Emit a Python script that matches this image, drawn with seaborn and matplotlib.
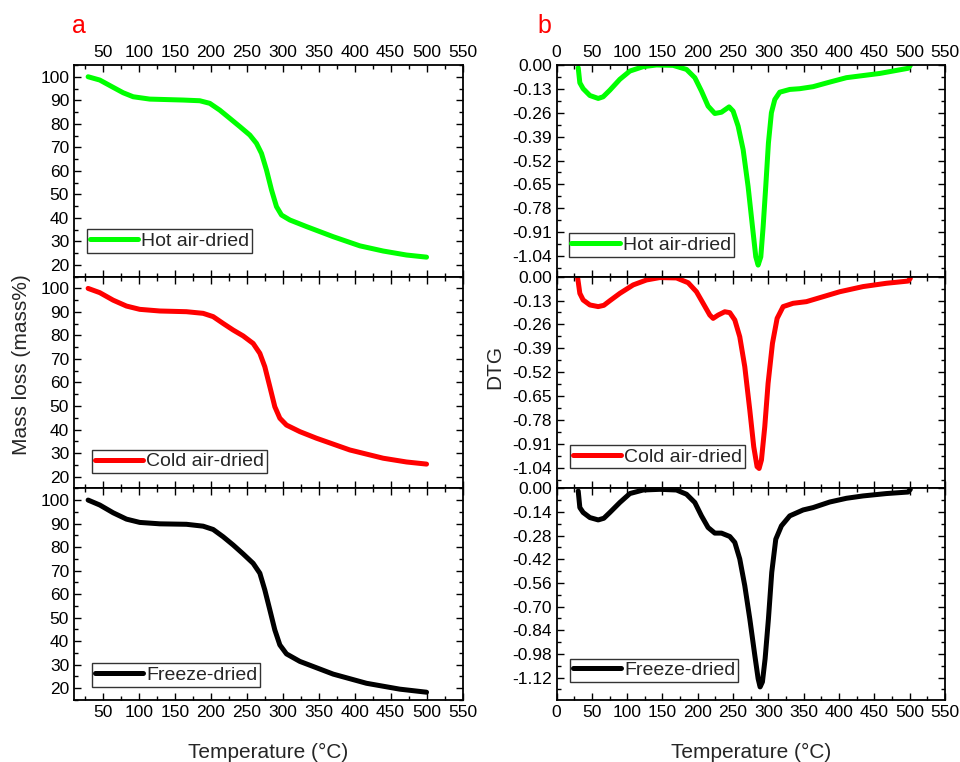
import numpy as np
import pandas as pd
import matplotlib
matplotlib.use("Agg")
import matplotlib.pyplot as plt
from matplotlib.ticker import MultipleLocator, FormatStrFormatter
import seaborn as sns

# ---- TG data (mass %) ----
tg_hot_t = [29.6, 45.8, 64.4, 78.3, 92.2, 115.3, 161.7, 184.8, 198.7, 212.6, 226.6, 240.5, 254.4, 263.6,
            270.6, 277.5, 284.5, 291.4, 298.4, 310, 333.1, 370.2, 407.3, 439.7, 472.1, 500]
tg_hot_y = [100, 98.6, 95.5, 93.2, 91.5, 90.5, 90.1, 89.8, 88.7, 85.8, 82.3, 78.8, 75.2, 71.7,
            67.4, 60.4, 51.9, 44.8, 41.2, 39.1, 36.3, 32.0, 28.1, 25.9, 24.2, 23.3]

tg_cold_t = [29.6, 45.8, 64.4, 82.9, 101.4, 129.2, 166.3, 189.5, 203.4, 217.3, 231.2, 245.1, 259, 268.3,
             275.2, 282.2, 289.1, 296.1, 305.3, 323.9, 347, 393.4, 439.7, 472.1, 500]
tg_cold_y = [100, 98.2, 95.0, 92.5, 91.1, 90.4, 90.1, 89.4, 88.0, 85.1, 82.3, 79.8, 76.6, 72.4,
             66.7, 58.2, 49.7, 44.8, 41.9, 39.1, 36.3, 31.3, 27.8, 26.2, 25.3]

tg_freeze_t = [29.6, 45.8, 64.4, 82.9, 101.4, 129.2, 166.3, 189.5, 203.4, 217.3, 231.2, 245.1, 259, 268.3,
               275.2, 282.2, 289.1, 296.1, 305.3, 323.9, 370.2, 416.5, 462.8, 500]
tg_freeze_y = [100, 97.9, 94.6, 91.9, 90.5, 89.9, 89.7, 88.9, 87.5, 84.4, 80.9, 77.1, 73.1, 68.9,
               61.8, 53.3, 44.8, 38.4, 34.6, 31.4, 26.0, 22.1, 19.6, 18.3]

# ---- DTG data ----
dtg_hot_t = [30.7, 33.0, 37.7, 47.2, 59.0, 66.0, 75.5, 89.6, 103.8, 122.6, 141.5, 165.1, 184.0, 195.8,
             205.2, 214.6, 224.1, 233.5, 244.3, 250.0, 257.1, 264.2, 271.2, 277.4, 282.1, 285.4, 289.2,
             292.5, 296.2, 300.0, 304.2, 309.0, 316.0, 330.2, 344.3, 363.2, 386.8, 410.4, 457.5, 497.6, 500.9]
dtg_hot_y = [-0.015, -0.097, -0.129, -0.166, -0.182, -0.173, -0.137, -0.078, -0.033, -0.009, 0.0, -0.002,
             -0.024, -0.069, -0.142, -0.224, -0.264, -0.257, -0.228, -0.251, -0.333, -0.461, -0.661, -0.880,
             -1.044, -1.089, -1.044, -0.880, -0.661, -0.424, -0.260, -0.188, -0.148, -0.133, -0.129, -0.118,
             -0.093, -0.069, -0.046, -0.018, -0.002]

dtg_cold_t = [29.7, 33.0, 37.7, 47.2, 59.0, 67.0, 75.5, 89.6, 108.5, 127.4, 146.2, 169.8, 186.3, 198.1,
              207.5, 217.0, 221.7, 228.8, 238.2, 245.3, 252.4, 259.4, 266.5, 273.6, 279.2, 283.9, 286.8,
              290.1, 294.8, 299.5, 305.7, 312.3, 320.8, 334.9, 353.8, 377.4, 401.0, 434.0, 467.0, 497.6, 500.9]
dtg_cold_y = [0.0, -0.091, -0.127, -0.154, -0.163, -0.156, -0.131, -0.091, -0.045, -0.018, -0.005, -0.007,
              -0.033, -0.082, -0.145, -0.209, -0.227, -0.209, -0.191, -0.196, -0.236, -0.327, -0.490, -0.726,
              -0.926, -1.034, -1.044, -0.998, -0.817, -0.581, -0.363, -0.227, -0.163, -0.145, -0.136, -0.109,
              -0.082, -0.054, -0.036, -0.024, -0.009]

dtg_freeze_t = [30.7, 33.0, 37.7, 47.2, 59.0, 67.0, 75.5, 89.6, 103.8, 122.6, 146.2, 169.8, 184.0, 195.8,
                205.2, 214.6, 224.1, 233.5, 245.3, 252.4, 259.4, 266.5, 273.6, 280.7, 285.4, 288.2, 291.5,
                295.3, 300.0, 304.7, 310.4, 318.4, 330.2, 349.1, 363.2, 386.8, 410.4, 434.0, 467.0, 497.6, 500.9]
dtg_freeze_y = [-0.016, -0.114, -0.143, -0.173, -0.187, -0.177, -0.143, -0.084, -0.031, -0.010, -0.006,
                -0.010, -0.035, -0.084, -0.163, -0.232, -0.265, -0.265, -0.285, -0.320, -0.418, -0.576,
                -0.772, -0.988, -1.126, -1.175, -1.145, -1.008, -0.772, -0.497, -0.301, -0.222, -0.163,
                -0.128, -0.114, -0.081, -0.059, -0.045, -0.031, -0.022, -0.006]

labels = ["Hot air-dried", "Cold air-dried", "Freeze-dried"]
colors = ["#00FF00", "#FF0000", "#000000"]

tg_series = [(tg_hot_t, tg_hot_y), (tg_cold_t, tg_cold_y), (tg_freeze_t, tg_freeze_y)]
dtg_series = [(dtg_hot_t, dtg_hot_y), (dtg_cold_t, dtg_cold_y), (dtg_freeze_t, dtg_freeze_y)]

dtg_step = [0.13, 0.13, 0.14]
dtg_ylim = [(-1.152, 0), (-1.152, 0), (-1.252, 0)]

sns.set_style("ticks")
plt.rcParams["font.family"] = ["Liberation Sans", "DejaVu Sans"]

fig, axes = plt.subplots(3, 2, figsize=(9.6, 7.62), dpi=100,
                         gridspec_kw=dict(hspace=0, wspace=0.242))
fig.subplots_adjust(left=0.0771, right=0.9844, top=0.9147, bottom=0.0814)

leg_anchor_left = [(0.033, 0.113), (0.046, 0.071), (0.046, 0.062)]
leg_anchor_right = [(0.031, 0.094), (0.034, 0.094), (0.034, 0.085)]


def style_axis(ax, row):
    ax.tick_params(which="both", direction="in", top=True, right=True,
                   labelsize=12.5, width=1.0, colors="black")
    ax.tick_params(which="major", length=5)
    ax.tick_params(which="minor", length=3)
    for sp in ax.spines.values():
        sp.set_linewidth(1.3)
        sp.set_color("black")
    ax.set_xlabel("")
    ax.set_ylabel("")
    if row == 0:
        ax.tick_params(labeltop=True, labelbottom=False)
    elif row == 1:
        ax.tick_params(labeltop=False, labelbottom=False)
    else:
        ax.tick_params(labeltop=False, labelbottom=True)


def add_legend(ax, anchor):
    leg = ax.legend(loc="lower left", bbox_to_anchor=anchor, fontsize=14,
                    frameon=True, fancybox=False, edgecolor="black",
                    handlelength=2.5, handletextpad=0.15, borderpad=0.15,
                    borderaxespad=0)
    leg.get_frame().set_linewidth(1.0)


line_kw = dict(lw=3.6, estimator=None, sort=False,
               solid_capstyle="round", solid_joinstyle="round")

for i in range(3):
    # TG panel
    ax = axes[i, 0]
    t, y = tg_series[i]
    df = pd.DataFrame({"T": t, "v": y})
    sns.lineplot(data=df, x="T", y="v", ax=ax, color=colors[i], label=labels[i], **line_kw)
    ax.set_xlim(10, 550)
    ax.set_ylim(15, 105)
    ax.xaxis.set_major_locator(MultipleLocator(50))
    ax.xaxis.set_minor_locator(MultipleLocator(25))
    ax.set_yticks(np.arange(20, 101, 10))
    ax.yaxis.set_minor_locator(MultipleLocator(5))
    style_axis(ax, i)
    add_legend(ax, leg_anchor_left[i])

    # DTG panel
    ax = axes[i, 1]
    t, y = dtg_series[i]
    df = pd.DataFrame({"T": t, "v": y})
    sns.lineplot(data=df, x="T", y="v", ax=ax, color=colors[i], label=labels[i], **line_kw)
    ax.set_xlim(0, 550)
    ax.xaxis.set_major_locator(MultipleLocator(50))
    ax.xaxis.set_minor_locator(MultipleLocator(25))
    step = dtg_step[i]
    ax.set_yticks(np.round(-np.arange(0, 9) * step, 2) + 0.0)
    ax.yaxis.set_major_formatter(FormatStrFormatter("%.2f"))
    ax.yaxis.set_minor_locator(MultipleLocator(step / 2))
    ax.set_ylim(*dtg_ylim[i])
    style_axis(ax, i)
    add_legend(ax, leg_anchor_right[i])

fig.text(0.022, 0.521, "Mass loss (mass%)", rotation=90, ha="center", va="center", fontsize=15)
fig.text(0.515, 0.518, "DTG", rotation=90, ha="center", va="center", fontsize=15)
fig.text(0.2797, 0.005, "Temperature (\u00b0C)", ha="center", va="baseline", fontsize=15)
fig.text(0.7823, 0.005, "Temperature (\u00b0C)", ha="center", va="baseline", fontsize=15)
fig.text(0.0818, 0.957, "a", color="red", ha="center", va="baseline", fontsize=18)
fig.text(0.567, 0.957, "b", color="red", ha="center", va="baseline", fontsize=18)

fig.savefig("out.png", dpi=100)
plt.close(fig)
